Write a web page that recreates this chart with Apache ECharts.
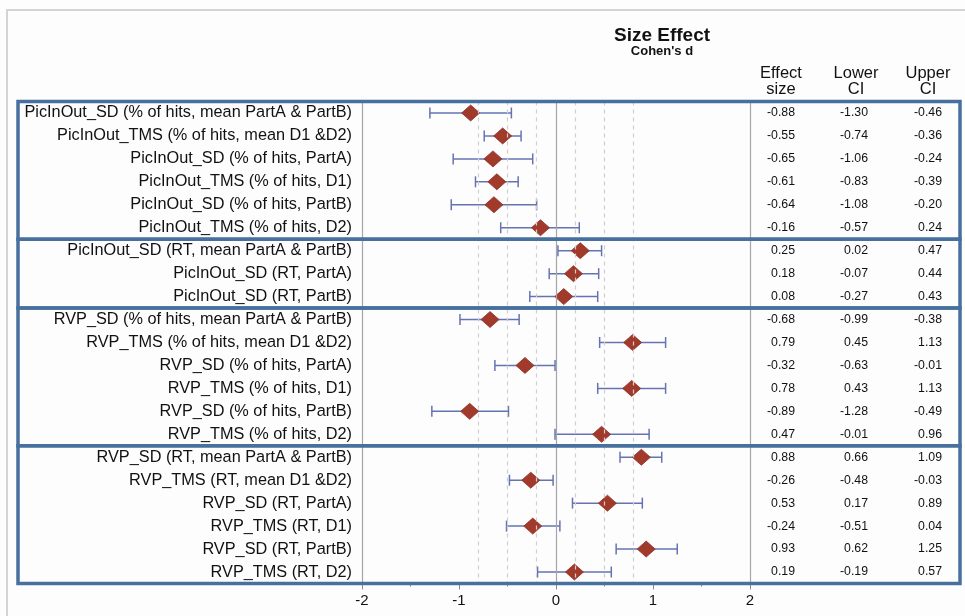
<!DOCTYPE html>
<html>
<head>
<meta charset="utf-8">
<script src="https://cdn.jsdelivr.net/npm/echarts@6/dist/echarts.min.js"></script>
<style>
  html, body { margin: 0; padding: 0; background: #fdfdfd; }
  #chart { width: 965px; height: 616px; }
</style>
</head>
<body>
<div id="chart"></div>
<script>
// Forest plot of effect sizes (Cohen's d) with 95% confidence intervals
const outcomes = [
  'PicInOut_SD (% of hits, mean PartA & PartB)',
  'PicInOut_TMS (% of hits, mean D1 &D2)',
  'PicInOut_SD (% of hits, PartA)',
  'PicInOut_TMS (% of hits, D1)',
  'PicInOut_SD (% of hits, PartB)',
  'PicInOut_TMS (% of hits, D2)',
  'PicInOut_SD (RT, mean PartA & PartB)',
  'PicInOut_SD (RT, PartA)',
  'PicInOut_SD (RT, PartB)',
  'RVP_SD (% of hits, mean PartA & PartB)',
  'RVP_TMS (% of hits, mean D1 &D2)',
  'RVP_SD (% of hits, PartA)',
  'RVP_TMS (% of hits, D1)',
  'RVP_SD (% of hits, PartB)',
  'RVP_TMS (% of hits, D2)',
  'RVP_SD (RT, mean PartA & PartB)',
  'RVP_TMS (RT, mean D1 &D2)',
  'RVP_SD (RT, PartA)',
  'RVP_TMS (RT, D1)',
  'RVP_SD (RT, PartB)',
  'RVP_TMS (RT, D2)'
];
const effectSize = [-0.88, -0.55, -0.65, -0.61, -0.64, -0.16, 0.25, 0.18, 0.08,
  -0.68, 0.79, -0.32, 0.78, -0.89, 0.47, 0.88, -0.26, 0.53, -0.24, 0.93, 0.19];
const lowerCI = [-1.30, -0.74, -1.06, -0.83, -1.08, -0.57, 0.02, -0.07, -0.27,
  -0.99, 0.45, -0.63, 0.43, -1.28, -0.01, 0.66, -0.48, 0.17, -0.51, 0.62, -0.19];
const upperCI = [-0.46, -0.36, -0.24, -0.39, -0.20, 0.24, 0.47, 0.44, 0.43,
  -0.38, 1.13, -0.01, 1.13, -0.49, 0.96, 1.09, -0.03, 0.89, 0.04, 1.25, 0.57];
// first and last row index of each outcome block
const groups = [[0, 5], [6, 8], [9, 14], [15, 20]];
const xTicks = [-2, -1, 0, 1, 2];
const dashedRefs = [-0.8, -0.5, -0.2, 0.2, 0.5, 0.8];
const solidRefs = [-2, 0, 2];

const FONT = '"Liberation Sans", Arial, sans-serif';
const chart = echarts.init(document.getElementById('chart'), null, { renderer: 'canvas' });

const rows = outcomes.map((_, i) => i);
const ciData = rows.map(i => [lowerCI[i], upperCI[i], i]);
const pointData = rows.map(i => [effectSize[i], i]);
const tableData = rows.map(i => [i, effectSize[i], lowerCI[i], upperCI[i]]);

const option = {
  backgroundColor: '#fdfdfd',
  animation: false,
  grid: { left: 362, right: 215, top: 101.5, bottom: 32.5, containLabel: false },
  xAxis: {
    type: 'value',
    min: xTicks[0], max: xTicks[xTicks.length - 1], interval: 1,
    axisLine: { show: false },
    axisTick: { show: true, length: 6, lineStyle: { color: '#8a8a8a', width: 1 } },
    minorTick: { show: true, splitNumber: 2, length: 3, lineStyle: { color: '#8a8a8a' } },
    splitLine: { show: false },
    axisLabel: { color: '#111', fontFamily: FONT, fontSize: 15, margin: 10 }
  },
  yAxis: {
    type: 'category',
    inverse: true,
    data: outcomes,
    axisLine: { show: false },
    axisTick: { show: false },
    splitLine: { show: false },
    axisLabel: { color: '#111', fontFamily: FONT, fontSize: 16.3, margin: 10 }
  },
  graphic: [
    { type: 'rect', shape: { x: 7, y: 10, width: 1000, height: 700 },
      style: { fill: null, stroke: '#d4d4d4', lineWidth: 2 }, z: -10, silent: true },
    { type: 'text', x: 662, y: 26, style: { text: 'Size Effect', font: 'bold 19px ' + FONT, fill: '#111', align: 'center' } },
    { type: 'text', x: 662, y: 45, style: { text: "Cohen's d", font: 'bold 13px ' + FONT, fill: '#111', align: 'center' } },
    { type: 'text', x: 781, y: 65, style: { text: 'Effect\nsize', font: '16.5px ' + FONT, lineHeight: 16, fill: '#111', align: 'center' } },
    { type: 'text', x: 856, y: 65, style: { text: 'Lower\nCI', font: '16.5px ' + FONT, lineHeight: 16, fill: '#111', align: 'center' } },
    { type: 'text', x: 928, y: 65, style: { text: 'Upper\nCI', font: '16.5px ' + FONT, lineHeight: 16, fill: '#111', align: 'center' } }
  ],
  series: [
    {
      // reference lines
      type: 'line',
      data: [],
      silent: true,
      markLine: {
        silent: true,
        symbol: 'none',
        label: { show: false },
        animation: false,
        data: dashedRefs.map(v => ({ xAxis: v, lineStyle: { color: '#cfcfcf', type: [4, 4], width: 1.2 } }))
          .concat(solidRefs.map(v => ({ xAxis: v, lineStyle: { color: '#a6a6a6', type: 'solid', width: 1.2 } })))
      }
    },
    {
      // confidence intervals with end caps
      type: 'custom',
      data: ciData,
      encode: { x: [0, 1], y: 2 },
      z: 3,
      renderItem: function (params, api) {
        const row = api.value(2);
        const p1 = api.coord([api.value(0), row]);
        const p2 = api.coord([api.value(1), row]);
        const cap = 5.5;
        const st = { stroke: '#6673b3', lineWidth: 1.5 };
        return {
          type: 'group',
          children: [
            { type: 'line', shape: { x1: p1[0], y1: p1[1], x2: p2[0], y2: p2[1] }, style: st },
            { type: 'line', shape: { x1: p1[0], y1: p1[1] - cap, x2: p1[0], y2: p1[1] + cap }, style: st },
            { type: 'line', shape: { x1: p2[0], y1: p2[1] - cap, x2: p2[0], y2: p2[1] + cap }, style: st }
          ]
        };
      }
    },
    {
      // point estimates
      type: 'scatter',
      data: pointData,
      symbol: 'diamond',
      symbolSize: [18, 16],
      z: 4,
      itemStyle: { color: '#a23a2c', borderColor: '#8e3024', borderWidth: 0.8, opacity: 1 }
    },
    {
      // value table to the right of the plot
      type: 'custom',
      data: tableData,
      encode: { y: 0 },
      clip: false,
      z: 5,
      renderItem: function (params, api) {
        const row = api.value(0);
        const y = api.coord([0, row])[1];
        const cols = [[795, api.value(1)], [868, api.value(2)], [942, api.value(3)]];
        return {
          type: 'group',
          children: cols.map(c => ({
            type: 'text',
            x: c[0], y: y,
            style: { text: c[1].toFixed(2), font: '12.3px ' + FONT, fill: '#111', align: 'right', verticalAlign: 'middle' }
          }))
        };
      }
    },
    {
      // block frames around outcome groups
      type: 'custom',
      data: groups,
      encode: { y: [0, 1] },
      clip: false,
      z: 10,
      renderItem: function (params, api) {
        const band = api.size([0, 1])[1];
        const top = api.coord([0, api.value(0)])[1] - band / 2;
        const bottom = api.coord([0, api.value(1)])[1] + band / 2;
        return {
          type: 'rect',
          shape: { x: 18, y: top, width: 942, height: bottom - top },
          style: { fill: null, stroke: '#47709e', lineWidth: 3.5 }
        };
      }
    }
  ]
};

chart.setOption(option);
</script>
</body>
</html>
